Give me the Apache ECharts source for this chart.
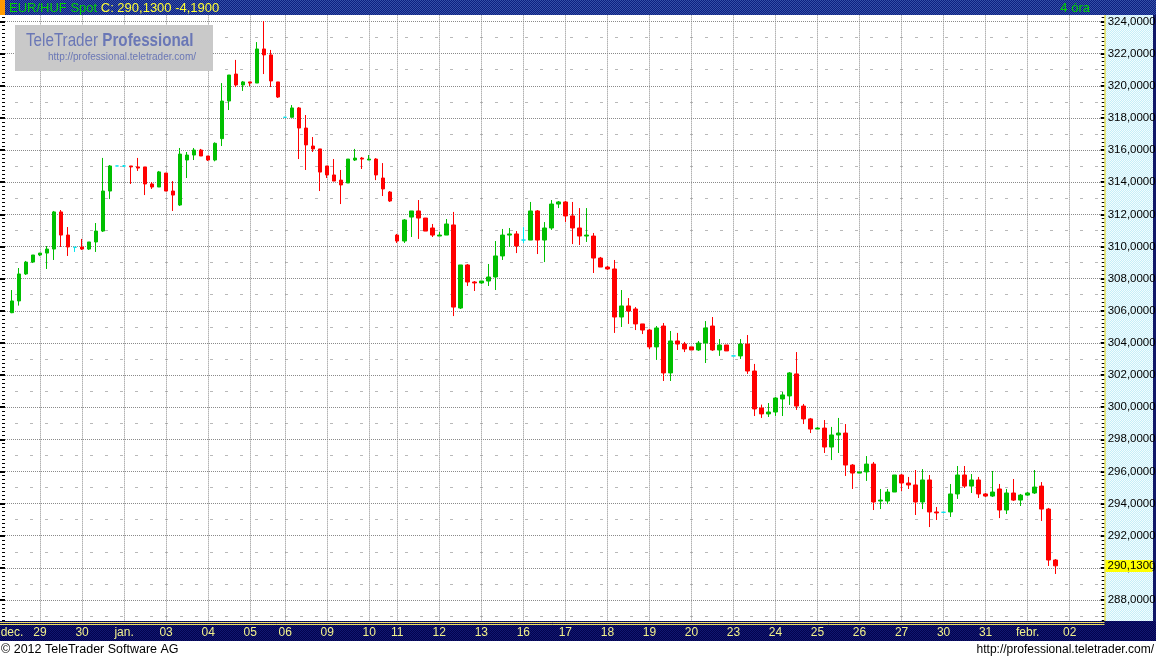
<!DOCTYPE html>
<html><head><meta charset="utf-8">
<script src="https://cdn.jsdelivr.net/npm/echarts@6/dist/echarts.min.js"></script>
<style>html,body{margin:0;padding:0;background:#fff;overflow:hidden}#c{width:1156px;height:659px}</style>
</head><body><div id="c"></div>
<script>
// ---- data ----
const symbolName = 'EUR/HUF Spot';
const periodLabel = '4 óra';
const dailyChange = -4.19;
const dayLabels = ['dec.','29','30','jan.','03','04','05','06','09','10','11','12','13','16','17','18','19','20','23','24','25','26','27','30','31','febr.','02'];
const slotsPerDay = [4,6,6,6,6,6,5,6,6,4,6,6,6,6,6,6,6,6,6,6,6,6,6,6,6,6,6];
const opens = [
305.88,306.61,308.29,309.03,309.47,309.59,309.84,312.15,310.71,309.95,
309.97,309.84,310.28,310.96,313.45,315.01,315.01,315.01,314.95,314.95,
313.89,313.70,314.57,313.45,312.58,315.38,315.69,316.00,315.63,315.38,
316.71,319.05,320.73,320.05,320.24,320.17,322.29,321.92,320.24,318.04,
318.04,318.62,317.37,316.25,316.07,315.01,314.45,314.13,313.95,315.38,
315.50,315.38,315.44,314.26,313.39,310.71,310.34,311.83,312.21,311.77,
311.15,310.65,310.71,311.34,306.17,308.85,307.79,307.73,307.85,308.10,
309.41,310.71,310.78,310.40,310.40,312.21,310.40,311.15,312.64,312.77,
311.90,311.15,310.65,310.65,309.28,308.72,308.60,305.61,306.30,306.11,
305.18,304.80,303.75,305.05,302.13,304.12,303.93,303.75,303.56,303.99,
305.05,303.56,303.87,303.19,303.19,303.93,302.25,299.95,299.58,299.70,
300.51,300.70,302.07,300.07,299.27,298.64,298.70,297.52,298.27,298.39,
296.40,295.90,295.97,296.46,294.16,294.16,294.72,295.78,295.28,295.16,
294.10,295.47,293.48,293.46,293.48,294.60,295.78,295.09,295.47,294.60,
294.47,294.91,293.60,294.66,294.22,294.53,294.66,295.09,293.66,290.49];
const closes = [
306.61,308.29,309.03,309.47,309.59,309.84,312.15,310.71,309.97,309.95,
309.84,310.28,310.96,313.45,315.01,315.01,315.01,314.95,314.88,313.89,
313.70,314.64,313.45,313.20,315.75,315.69,316.00,315.63,315.38,316.42,
319.05,320.67,320.05,320.24,320.17,322.29,321.92,320.30,319.30,318.04,
318.62,317.37,316.32,316.07,314.63,314.45,314.07,313.83,315.44,315.50,
315.44,315.44,314.45,313.58,312.83,310.34,311.65,312.21,311.77,310.96,
310.71,310.71,311.40,306.23,308.85,307.79,307.73,307.85,308.10,309.41,
310.71,310.78,310.03,310.40,312.21,310.40,311.15,312.64,312.77,311.90,
311.15,310.65,310.71,309.28,308.72,308.60,305.61,306.30,305.98,305.18,
304.80,303.75,304.93,302.13,304.12,303.93,303.62,303.56,303.99,304.93,
303.56,303.87,303.50,303.19,303.93,302.25,299.89,299.58,299.70,300.57,
300.76,302.13,300.07,299.27,298.64,298.70,297.52,298.27,298.39,296.40,
295.90,295.97,296.46,294.10,294.22,294.72,295.78,295.28,295.16,294.10,
295.47,293.48,293.42,293.46,294.60,295.78,295.09,295.47,294.60,294.47,
294.72,293.60,294.66,294.22,294.53,294.66,295.03,293.66,290.49,290.13];
const highs = [
307.29,308.66,309.10,309.47,309.60,310.03,312.21,312.27,311.21,309.95,
310.47,310.28,311.46,315.51,315.07,315.01,315.07,315.01,315.51,314.95,
314.01,314.70,314.57,314.07,316.13,315.88,316.13,316.07,315.63,316.48,
320.17,320.67,321.61,320.30,320.24,322.72,324.03,322.23,320.24,318.04,
318.80,318.68,318.18,316.81,316.07,315.01,315.44,314.76,315.44,316.07,
315.57,315.69,315.50,315.19,313.45,310.78,311.71,312.21,312.89,311.77,
311.40,310.90,311.71,312.15,308.85,308.91,307.85,307.85,308.91,310.34,
311.09,311.15,310.96,311.21,312.77,312.27,311.52,312.89,312.83,312.83,
312.77,312.39,312.39,310.84,309.35,308.79,309.16,307.29,306.79,306.23,
305.18,304.87,305.05,305.24,304.74,304.62,304.06,303.75,304.12,305.36,
305.61,304.24,303.87,303.19,304.24,304.49,302.69,300.16,300.26,300.63,
300.95,302.19,303.43,300.20,299.33,298.77,299.20,298.77,299.33,298.95,
296.46,295.97,296.96,296.59,294.91,294.91,295.78,295.84,295.66,296.09,
296.15,295.78,293.79,293.46,295.22,296.34,296.34,295.84,295.66,294.66,
296.03,295.22,294.91,295.53,294.60,294.72,296.09,295.34,293.73,290.55];
const lows = [
305.85,306.32,308.23,308.97,309.40,308.60,309.16,309.97,309.41,309.66,
309.78,309.78,309.66,310.90,312.95,315.01,314.95,313.89,314.70,313.20,
313.58,313.70,313.45,312.21,312.52,314.26,315.38,315.63,315.32,315.30,
316.25,318.49,319.92,319.68,319.99,320.17,320.73,319.92,319.24,318.04,
318.04,315.44,314.76,315.88,313.45,314.26,314.07,312.64,313.95,315.32,
314.82,315.38,314.13,313.14,312.77,310.22,310.22,310.59,310.47,310.96,
310.59,310.65,310.71,305.67,306.11,307.54,307.23,307.67,307.54,307.29,
309.16,309.97,309.59,310.22,310.40,309.53,309.03,311.03,312.39,311.52,
310.15,310.09,310.28,308.35,308.72,308.54,304.62,304.99,305.18,304.80,
304.55,303.62,302.94,301.63,301.63,303.56,303.43,303.56,303.50,302.75,
303.50,303.19,303.50,303.19,303.00,302.07,299.45,299.33,299.39,299.45,
299.45,300.14,299.83,298.95,298.39,298.64,297.15,296.71,297.15,295.72,
294.91,295.90,295.41,293.60,293.66,293.97,294.72,294.78,294.91,293.29,
293.66,292.54,292.98,293.46,293.17,294.29,294.97,294.66,294.35,294.41,
294.41,293.10,293.35,294.16,293.85,294.47,294.60,292.92,290.12,289.62];
const yMin = 286, yMax = 326, yStep = 2;
const yLabelFirst = 288, yLabelLast = 324;

// ---- build ----
const GREEN = '#00bf00', RED = '#ff0000', CYAN = '#00e4ee';
const FONT = '"Liberation Sans", Arial, Helvetica, sans-serif';
const fmt = v => v.toFixed(4).replace('.', ',');

const categories = [''];
dayLabels.forEach((d, di) => { for (let k = 0; k < slotsPerDay[di]; k++) categories.push(d + '|' + k); });
const isDayStart = (idx, val) => typeof val === 'string' && /\|0$/.test(val);
const isGridDay = (idx, val) => isDayStart(idx, val) && val !== dayLabels[0] + '|0';

const seriesData = categories.map((c, idx) => {
  const i = idx - 1;
  if (i < 0 || i >= opens.length) return ['-', '-', '-', '-'];
  const item = { value: [opens[i], closes[i], lows[i], highs[i]] };
  if (opens[i] === closes[i]) item.itemStyle = { color: CYAN, color0: CYAN, borderColor: CYAN, borderColor0: CYAN, borderColorDoji: CYAN };
  return item;
});

function pattern(c1, c2) {
  const cv = document.createElement('canvas'); cv.width = 2; cv.height = 2;
  const g = cv.getContext('2d');
  g.fillStyle = c1; g.fillRect(0, 0, 2, 2);
  g.fillStyle = c2; g.fillRect(0, 0, 1, 1); g.fillRect(1, 1, 1, 1);
  return { image: cv, repeat: 'repeat' };
}

const chart = echarts.init(document.getElementById('c'), null, { renderer: 'canvas', width: 1156, height: 659 });

const gridTop = -10.64, gridBottom = 26.84, gridLeft = 5, gridRight = 51.3;

const tickAxisBase = {
  type: 'value', min: yMin, max: yMax, interval: yStep, z: 0,
  axisLine: { show: false }, axisLabel: { show: false }, splitLine: { show: false }
};

chart.setOption({
  animation: false,
  backgroundColor: '#ffffff',
  grid: { left: gridLeft, right: gridRight, top: gridTop, bottom: gridBottom, containLabel: false, outerBoundsMode: 'none' },
  xAxis: [
    { type: 'category', data: categories, boundaryGap: false, z: 0,
      axisLine: { show: false }, axisTick: { show: false }, axisLabel: { show: false },
      splitLine: { show: true, interval: isGridDay, lineStyle: { color: '#8a8a8a', type: [1, 1], width: 1 } } },
    { type: 'category', data: categories, boundaryGap: false, position: 'bottom', offset: 0, z: 100,
      axisLine: { show: false }, axisTick: { show: false }, splitLine: { show: false },
      axisLabel: { show: true, interval: isDayStart, formatter: v => v.split('|')[0], color: '#f2f28c',
        fontFamily: FONT, fontSize: 12, margin: 1, verticalAlign: 'middle', hideOverlap: false } }
  ],
  yAxis: [
    { type: 'value', position: 'right', min: yMin, max: yMax, interval: yStep, z: 0,
      axisLine: { show: false }, axisTick: { show: false }, axisLabel: { show: false },
      splitLine: { show: true, lineStyle: { color: '#8a8a8a', type: [1, 1], width: 1 } },
      minorTick: { show: false, splitNumber: 2 },
      minorSplitLine: { show: true, lineStyle: { color: '#b9b9b9', type: [3, 12], dashOffset: 5, width: 1 } } },
    { type: 'value', position: 'right', offset: 0, min: yMin, max: yMax, interval: yStep, z: 100,
      axisLine: { show: false }, axisTick: { show: false }, splitLine: { show: false },
      axisLabel: { show: true, margin: 3, color: '#000', fontFamily: FONT, fontSize: 11.5,
        formatter: v => (v >= yLabelFirst && v <= yLabelLast) ? fmt(v) : '' } },
    Object.assign({}, tickAxisBase, { position: 'right', offset: 0,
      axisTick: { show: true, inside: true, length: 4, lineStyle: { color: '#000', width: 2 } },
      minorTick: { show: true, splitNumber: 8, length: 3, lineStyle: { color: '#000', width: 1 } } }),
    Object.assign({}, tickAxisBase, { position: 'left', offset: 0,
      axisTick: { show: true, inside: false, length: 5, lineStyle: { color: '#000', width: 2 } },
      minorTick: { show: true, splitNumber: 8, length: 3, lineStyle: { color: '#000', width: 1 } } })
  ],
  series: [{
    type: 'candlestick', xAxisIndex: 0, yAxisIndex: 0, z: 2,
    data: seriesData, barWidth: 4,
    itemStyle: { color: GREEN, color0: RED, borderColor: GREEN, borderColor0: RED, borderColorDoji: CYAN, borderWidth: 1 }
  }]
});

const lastClose = closes[closes.length - 1];
const yLast = chart.convertToPixel({ yAxisIndex: 0 }, lastClose);
const W = 1156, plotBottom = 621, panelX = 1104.5;

chart.setOption({
  graphic: { elements: [
    // header
    { type: 'rect', z: 50, shape: { x: 0, y: 0, width: W, height: 15 }, style: { fill: pattern('#0c2080', '#3550a8') } },
    { type: 'rect', z: 51, shape: { x: 0, y: 0, width: 5, height: 15 }, style: { fill: '#ff9a00' } },
    { type: 'text', z: 52, x: 9, y: 8, style: { text: '{g|' + symbolName + '} {y|C: ' + fmt(lastClose) + ' ' + fmt(dailyChange) + '}',
        rich: { g: { fill: '#00d400', font: '13px ' + FONT }, y: { fill: '#ffff33', font: '13px ' + FONT } },
        font: '13px ' + FONT, verticalAlign: 'middle', textVerticalAlign: 'middle' } },
    { type: 'text', z: 52, x: 1090, y: 8, style: { text: periodLabel, fill: '#00d400', font: '13px ' + FONT,
        align: 'right', textAlign: 'right', verticalAlign: 'middle', textVerticalAlign: 'middle' } },
    // logo
    { type: 'rect', z: 30, shape: { x: 15, y: 25, width: 198, height: 46 }, style: { fill: '#c9c9c9' } },
    { type: 'text', z: 31, x: 26, y: 41, scaleX: 0.8, style: { text: '{a|TeleTrader }{b|Professional}',
        rich: { a: { fill: '#6a77b6', font: '19px ' + FONT }, b: { fill: '#6a77b6', font: 'bold 19px ' + FONT } },
        font: '19px ' + FONT, verticalAlign: 'middle', textVerticalAlign: 'middle' } },
    { type: 'text', z: 31, x: 48, y: 57, scaleX: 0.91, style: { text: 'http://professional.teletrader.com/', fill: '#6a77b6',
        font: '11px ' + FONT, verticalAlign: 'middle', textVerticalAlign: 'middle' } },
    // right axis panel
    { type: 'rect', z: 40, shape: { x: panelX, y: 15, width: W - panelX, height: plotBottom - 15 }, style: { fill: pattern('#c6eef8', '#f2fdff') } },
    { type: 'line', z: 41, shape: { x1: panelX + 0.5, y1: 15, x2: panelX + 0.5, y2: plotBottom }, style: { stroke: '#e8d400', lineWidth: 1 } },
    { type: 'rect', z: 41, shape: { x: 1153, y: 15, width: 3, height: plotBottom - 15 }, style: { fill: '#101868' } },
    // bottom axis bar
    { type: 'rect', z: 40, shape: { x: 0, y: plotBottom, width: W, height: 20 }, style: { fill: pattern('#02024e', '#121870') } },
    { type: 'line', z: 41, shape: { x1: 0, y1: plotBottom + 1.5, x2: panelX, y2: plotBottom + 1.5 }, style: { stroke: '#f0e060', lineWidth: 1 } },
    { type: 'line', z: 41, shape: { x1: 0, y1: plotBottom + 3.5, x2: panelX, y2: plotBottom + 3.5 }, style: { stroke: '#f0e060', lineWidth: 1 } },
    // last price marker
    { type: 'rect', z: 160, shape: { x: panelX + 1, y: Math.round(yLast) - 6, width: 47, height: 12 }, style: { fill: '#ffff00' } },
    { type: 'text', z: 161, x: panelX + 3, y: yLast, style: { text: fmt(lastClose), fill: '#000', font: '11.5px ' + FONT,
        verticalAlign: 'middle', textVerticalAlign: 'middle' } },
    // footer
    { type: 'text', z: 20, x: 1, y: 650, style: { text: '© 2012 TeleTrader Software AG', fill: '#000', font: '12.5px ' + FONT,
        verticalAlign: 'middle', textVerticalAlign: 'middle' } },
    { type: 'text', z: 20, x: 1154, y: 650, style: { text: 'http://professional.teletrader.com/', fill: '#000', font: '12px ' + FONT,
        align: 'right', textAlign: 'right', verticalAlign: 'middle', textVerticalAlign: 'middle' } }
  ] }
});
</script>
</body></html>
